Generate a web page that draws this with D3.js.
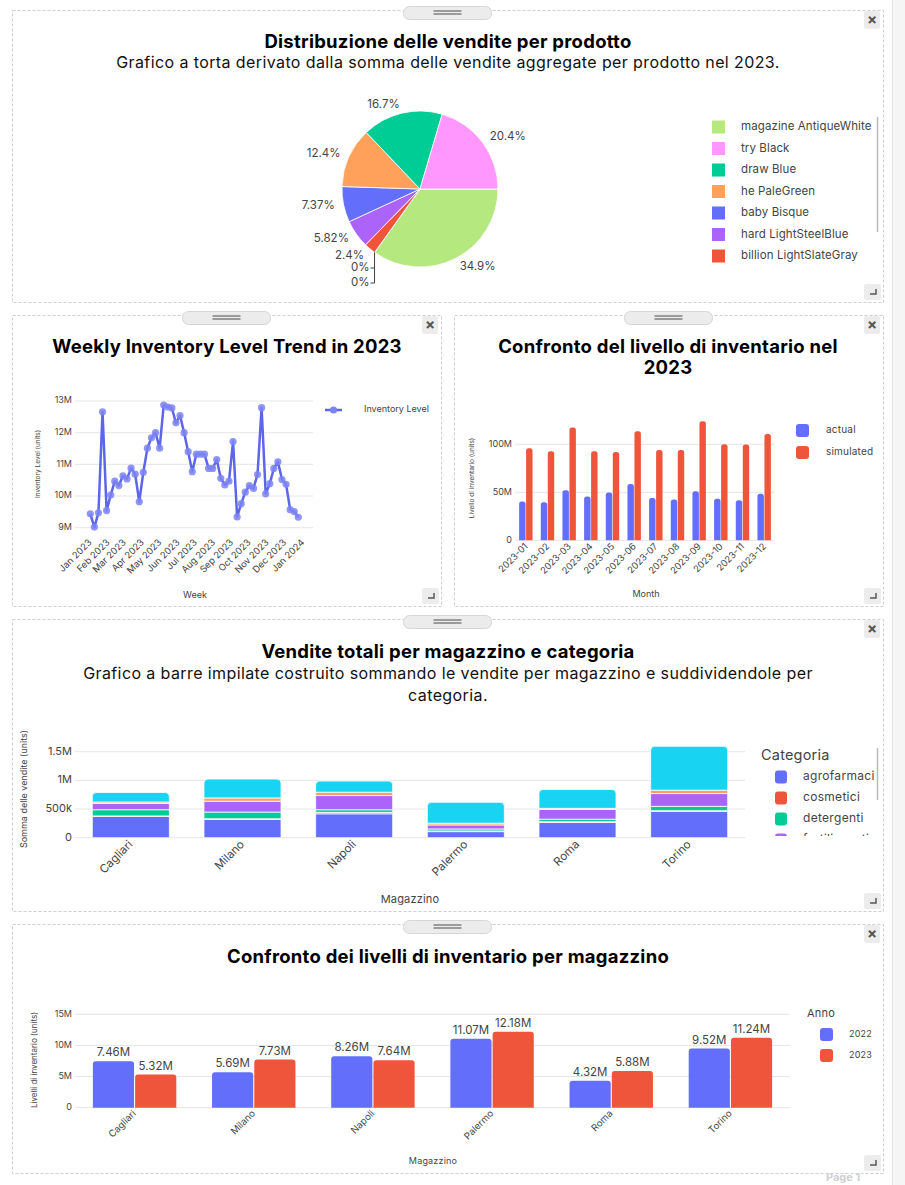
<!DOCTYPE html>
<html><head><meta charset="utf-8">
<script src="https://cdn.jsdelivr.net/npm/d3@7"></script>
<style>
html,body{margin:0;padding:0;background:#fff;}
svg{display:block;font-family:Inter,"Open Sans",sans-serif;}
</style></head><body>
<svg id="c" width="905" height="1185"></svg>
<script>
// ---------- DATA ----------
const pieNames = ["magazine AntiqueWhite","try Black","draw Blue","he PaleGreen","baby Bisque","hard LightSteelBlue","billion LightSlateGray","prodotto 8","prodotto 9"];
const pieValues = [34.9,20.4,16.7,12.4,7.37,5.82,2.4,0,0];
const pieColors = ["#B6E880","#FF97FF","#00CC96","#FFA15A","#636EFA","#AB63FA","#EF553B","#FECB52","#19D3F3"];

const weeklyInventoryM = [9.44,9.02,9.47,12.66,9.54,10.03,10.47,10.33,10.64,10.54,10.88,10.69,9.82,10.75,11.51,11.84,12.0,11.51,12.87,12.81,12.78,12.31,12.54,12.0,11.4,10.77,11.32,11.32,11.32,10.87,10.87,11.15,10.56,10.35,10.47,11.72,9.34,9.76,10.12,10.33,10.24,10.68,12.79,10.07,10.39,10.87,11.08,10.52,10.37,9.57,9.51,9.33];
const weekMonthTicks = ["Jan 2023","Feb 2023","Mar 2023","Apr 2023","May 2023","Jun 2023","Jul 2023","Aug 2023","Sep 2023","Oct 2023","Nov 2023","Dec 2023","Jan 2024"];
const lineYTicks = [9,10,11,12,13];

const months = ["2023-01","2023-02","2023-03","2023-04","2023-05","2023-06","2023-07","2023-08","2023-09","2023-10","2023-11","2023-12"];
const actualM = [40.3,39.6,52.1,45.5,49.7,58.7,44.1,42.4,51.0,43.4,41.7,48.6];
const simulatedM = [95.8,92.7,117.4,92.7,92.0,113.5,94.1,94.1,124.0,100.0,99.7,110.8];
const monthYTicks = [0,50,100];

const warehouses = ["Cagliari","Milano","Napoli","Palermo","Roma","Torino"];
const categories = ["agrofarmaci","cosmetici","detergenti","fertilizzanti","giardinaggio","sementi"];
const catColors = ["#636EFA","#EF553B","#00CC96","#AB63FA","#FFA15A","#19D3F3"];
// sales in thousands of units, per category and warehouse
const salesAgrofarmaci = [370,318,417,106,265,459];
const salesCosmetici   = [10,12,25,12,15,12];
const salesDetergenti  = [108,117,46,35,43,76];
const salesFertilizz   = [112,188,247,70,171,223];
const salesGiardinagg  = [23,59,59,30,18,59];
const salesSementi     = [165,329,194,364,329,765];
const stackYTicks = [0,500,1000,1500];
const stackYLabels = ["0","500k","1M","1.5M"];

const years = ["2022","2023"];
const inv2022M = [7.46,5.69,8.26,11.07,4.32,9.52];
const inv2023M = [5.32,7.73,7.64,12.18,5.88,11.24];
const invYTicks = [0,5,10,15];

// ---------- HELPERS ----------
const svg = d3.select("#c");
function txt(g,x,y,s,o={}){
  const t = g.append("text").attr("x",x).attr("y",y).text(s)
    .attr("font-size",o.size||12).attr("font-weight",o.weight||400)
    .attr("fill",o.fill||"#444").attr("text-anchor",o.anchor||"start")
    .attr("dominant-baseline",o.base||"middle");
  if(o.ls) t.attr("letter-spacing",o.ls);
  return t;
}
function title(g,x,y,s){ return txt(g,x,y,s,{size:18.5,weight:700,fill:"#000",anchor:"middle",ls:0.25}); }
function subtitle(g,x,y,s){ return txt(g,x,y,s,{size:16,fill:"#111",anchor:"middle",ls:0.4}); }
function topRounded(x,y,w,h,r){
  r=Math.max(0,Math.min(r,h,w/2));
  return `M${x},${y+h}V${y+r}Q${x},${y} ${x+r},${y}H${x+w-r}Q${x+w},${y} ${x+w},${y+r}V${y+h}Z`;
}
function panel(x0,y0,x1,y1){
  svg.append("rect").attr("x",x0+0.5).attr("y",y0+0.5).attr("width",x1-x0).attr("height",y1-y0)
    .attr("fill","#fff").attr("stroke","#cfcfcf").attr("stroke-dasharray","3,2");
  const cx=(x0+x1)/2;
  svg.append("rect").attr("x",cx-44).attr("y",y0-3.5).attr("width",88).attr("height",13).attr("rx",6)
    .attr("fill","#ececec").attr("stroke","#d6d6d6");
  [0,3].forEach(d=>svg.append("line").attr("x1",cx-14).attr("x2",cx+14).attr("y1",y0+1+d).attr("y2",y0+1+d)
    .attr("stroke","#666").attr("stroke-width",1.2));
  svg.append("rect").attr("x",x1-19).attr("y",y0+1).attr("width",16).attr("height",18).attr("rx",2).attr("fill","#ececec");
  txt(svg,x1-11,y0+10.5,"×",{size:15,weight:700,fill:"#555",anchor:"middle"});
  svg.append("rect").attr("x",x1-19).attr("y",y1-18).attr("width",17).attr("height",16).attr("rx",2).attr("fill","#ececec");
  svg.append("path").attr("d",`M${x1-7},${y1-13}V${y1-8}H${x1-13}`).attr("fill","none").attr("stroke","#555").attr("stroke-width",1.5);
}

// page right strip
svg.append("rect").attr("x",892).attr("y",0).attr("width",13).attr("height",1185).attr("fill","#f5f5f5");
svg.append("line").attr("x1",892.5).attr("x2",892.5).attr("y1",0).attr("y2",1185).attr("stroke","#e3e3e3");
txt(svg,826,1178,"Page 1",{size:11,weight:700,fill:"#d0d0d0"});

panel(12,10,883,302);
panel(12,315,441,606);
panel(454,315,883,606);
panel(12,619,883,911);
panel(12,924,883,1173);

// ---------- PANEL 1: PIE ----------
{
  const g = svg.append("g");
  title(g,448,43,"Distribuzione delle vendite per prodotto");
  subtitle(g,448,64,"Grafico a torta derivato dalla somma delle vendite aggregate per prodotto nel 2023.");
  const cx=420, cy=189, R=78;
  const order=[0,8,7,6,5,4,3,2,1];
  const pd = order.map(i=>({i,name:pieNames[i],value:pieValues[i],color:pieColors[i]}));
  const arcs = d3.pie().sort(null).value(d=>d.value).startAngle(Math.PI/2).endAngle(Math.PI/2+2*Math.PI)(pd);
  const arc = d3.arc().innerRadius(0).outerRadius(R);
  const pg = g.append("g").attr("transform",`translate(${cx},${cy})`);
  pg.selectAll("path").data(arcs).join("path").attr("d",arc).attr("fill",d=>d.data.color)
    .attr("stroke","#fff").attr("stroke-width",0.8);
  const lr = R+9;
  arcs.filter(a=>a.data.value>0).forEach(a=>{
    const m=(a.startAngle+a.endAngle)/2;
    const x=Math.sin(m)*lr, y=-Math.cos(m)*lr;
    txt(pg,x,y,a.data.value+"%",{size:11.5,fill:"#444",anchor:Math.sin(m)>=0?"start":"end"});
  });
  const zeros = arcs.filter(a=>a.data.value===0);
  if(zeros.length){
    const a0=zeros[0].startAngle;
    const px=Math.sin(a0)*R, py=-Math.cos(a0)*R;
    const ys=[268-cy,283-cy];
    pg.append("path").attr("d",`M${px},${py}V${ys[1]}H${px-4}M${px},${ys[0]}H${px-4}`)
      .attr("fill","none").attr("stroke","#444").attr("stroke-width",1);
    zeros.forEach((z,k)=>txt(pg,px-5,ys[k],z.data.value+"%",{size:11.5,fill:"#444",anchor:"end"}));
  }
  const lg = g.append("g");
  pieNames.slice(0,7).forEach((n,k)=>{
    const y=127+k*21.5;
    lg.append("rect").attr("x",712).attr("y",y-6.5).attr("width",13).attr("height",13).attr("fill",pieColors[k]);
    txt(lg,741,y,n,{size:11.5,fill:"#444",ls:0.1});
  });
  g.append("line").attr("x1",877.5).attr("x2",877.5).attr("y1",117).attr("y2",232).attr("stroke","#bbb").attr("stroke-width",1.5);
}

// ---------- PANEL 2: LINE ----------
{
  const g = svg.append("g");
  title(g,227,348,"Weekly Inventory Level Trend in 2023");
  const weeks = d3.timeMonday.range(new Date(2023,0,2), new Date(2023,11,26));
  const x = d3.scaleTime().domain([weeks[0],weeks[weeks.length-1]]).range([90.3,298.3]);
  const y = d3.scaleLinear().domain([9,13]).range([527.7,401]);
  lineYTicks.forEach(t=>{
    g.append("line").attr("x1",75).attr("x2",313).attr("y1",y(t)).attr("y2",y(t)).attr("stroke","#e6e6e6");
    txt(g,72,y(t),t+"M",{size:9,fill:"#444",anchor:"end"});
  });
  const mt = d3.timeMonth.range(new Date(2023,0,1), new Date(2024,0,2));
  mt.forEach((d,k)=>{
    g.append("text").attr("transform",`translate(${x(d)+2.5},${543}) rotate(-45)`)
      .attr("text-anchor","end").attr("font-size",9.3).attr("fill","#444").text(weekMonthTicks[k]);
  });
  const pts = weeks.map((d,i)=>[x(d),y(weeklyInventoryM[i])]);
  g.append("path").attr("d",d3.line()(pts)).attr("fill","none").attr("stroke","#5d65e8").attr("stroke-width",2.5).attr("stroke-linejoin","round");
  g.selectAll("circle.m").data(pts).join("circle").attr("cx",d=>d[0]).attr("cy",d=>d[1]).attr("r",3.6)
    .attr("fill","#7c84f4").attr("fill-opacity",0.85);
  txt(g,195,596,"Week",{size:9,fill:"#444",anchor:"middle"});
  g.append("text").attr("transform","translate(38,464) rotate(-90)").attr("text-anchor","middle")
    .attr("dominant-baseline","middle").attr("font-size",6.5).attr("fill","#444").text("Inventory Level (units)");
  g.append("line").attr("x1",325).attr("x2",342).attr("y1",410).attr("y2",410).attr("stroke","#5d65e8").attr("stroke-width",2.5);
  g.append("circle").attr("cx",333.5).attr("cy",410).attr("r",3.6).attr("fill","#7c84f4");
  txt(g,364,410,"Inventory Level",{size:9,fill:"#444"});
}

// ---------- PANEL 3: GROUPED MONTHLY ----------
{
  const g = svg.append("g");
  title(g,668,348,"Confronto del livello di inventario nel");
  title(g,668,369,"2023");
  const x = d3.scaleBand().domain(months).range([515,775]).paddingInner(0.38).paddingOuter(0.19);
  const xs = d3.scaleBand().domain(["actual","simulated"]).range([0,x.bandwidth()]).paddingInner(0.08);
  const y = d3.scaleLinear().domain([0,100]).range([540.3,444.3]);
  monthYTicks.forEach(t=>{
    g.append("line").attr("x1",515).attr("x2",775).attr("y1",y(t)).attr("y2",y(t)).attr("stroke","#e6e6e6");
    txt(g,512,y(t),t===0?"0":t+"M",{size:9,fill:"#444",anchor:"end"});
  });
  months.forEach((m,i)=>{
    [["actual",actualM[i],"#636EFA"],["simulated",simulatedM[i],"#EF553B"]].forEach(([s,v,c])=>{
      const bx=x(m)+xs(s), by=y(v);
      g.append("path").attr("d",topRounded(bx,by,xs.bandwidth(),y(0)-by,2.5)).attr("fill",c);
    });
    g.append("text").attr("transform",`translate(${x(m)+x.bandwidth()/2+2.5},${547}) rotate(-45)`)
      .attr("text-anchor","end").attr("font-size",9.3).attr("fill","#444").text(m);
  });
  txt(g,646,595,"Month",{size:9,fill:"#444",anchor:"middle"});
  g.append("text").attr("transform","translate(472,478) rotate(-90)").attr("text-anchor","middle")
    .attr("dominant-baseline","middle").attr("font-size",6.5).attr("fill","#444").text("Livello di inventario (units)");
  [["actual","#636EFA",430.5],["simulated","#EF553B",452.5]].forEach(([n,c,yy])=>{
    g.append("rect").attr("x",796).attr("y",yy-6.5).attr("width",13).attr("height",13).attr("rx",3).attr("fill",c);
    txt(g,826,yy,n,{size:10,fill:"#444",ls:0.2});
  });
}

// ---------- PANEL 4: STACKED ----------
{
  const g = svg.append("g");
  title(g,448,653,"Vendite totali per magazzino e categoria");
  subtitle(g,448,675,"Grafico a barre impilate costruito sommando le vendite per magazzino e suddividendole per");
  subtitle(g,448,697,"categoria.");
  const series=[salesAgrofarmaci,salesCosmetici,salesDetergenti,salesFertilizz,salesGiardinagg,salesSementi];
  const rows = warehouses.map((w,i)=>{const o={w}; categories.forEach((c,k)=>o[c]=series[k][i]); return o;});
  const stack = d3.stack().keys(categories)(rows);
  const x = d3.scaleBand().domain(warehouses).range([75,745]).paddingInner(0.31).paddingOuter(0.155);
  const y = d3.scaleLinear().domain([0,1500]).range([837.7,751.7]);
  stackYTicks.forEach((t,k)=>{
    g.append("line").attr("x1",75).attr("x2",745).attr("y1",y(t)).attr("y2",y(t)).attr("stroke","#e6e6e6");
    txt(g,72,y(t),stackYLabels[k],{size:11,fill:"#444",anchor:"end"});
  });
  stack.forEach((layer,k)=>{
    layer.forEach((d,i)=>{
      const bx=x(warehouses[i]), y0=y(d[0]), y1=y(d[1]);
      const isTop = k===stack.length-1;
      g.append("path").attr("d",isTop?topRounded(bx,y1,x.bandwidth(),y0-y1,4):`M${bx},${y0}V${y1}H${bx+x.bandwidth()}V${y0}Z`)
        .attr("fill",catColors[k]).attr("stroke","#fff").attr("stroke-width",0.8);
    });
  });
  warehouses.forEach(w=>{
    g.append("text").attr("transform",`translate(${x(w)+x.bandwidth()/2+2.5},${845}) rotate(-45)`)
      .attr("text-anchor","end").attr("font-size",11.5).attr("fill","#444").text(w);
  });
  txt(g,410,900,"Magazzino",{size:11,fill:"#444",anchor:"middle",ls:0.2});
  g.append("text").attr("transform","translate(25,789) rotate(-90)").attr("text-anchor","middle")
    .attr("dominant-baseline","middle").attr("font-size",9).attr("fill","#444").text("Somma delle vendite (units)");
  txt(g,761,756,"Categoria",{size:14.5,fill:"#444",ls:0.2});
  svg.append("clipPath").attr("id","lgclip").append("rect").attr("x",760).attr("y",765).attr("width",120).attr("height",71);
  const lg=g.append("g").attr("clip-path","url(#lgclip)");
  categories.forEach((c,k)=>{
    const yy=777+k*21;
    lg.append("rect").attr("x",775).attr("y",yy-6.5).attr("width",12).attr("height",13).attr("rx",3).attr("fill",catColors[k]);
    txt(lg,803,yy,c,{size:12,fill:"#444",ls:0.3});
  });
  g.append("line").attr("x1",877.5).attr("x2",877.5).attr("y1",748).attr("y2",800).attr("stroke","#bbb").attr("stroke-width",1.5);
}

// ---------- PANEL 5: GROUPED PER WAREHOUSE ----------
{
  const g = svg.append("g");
  title(g,448,958,"Confronto dei livelli di inventario per magazzino");
  const x = d3.scaleBand().domain(warehouses).range([75,790]).paddingInner(0.3).paddingOuter(0.15);
  const xs = d3.scaleBand().domain(years).range([0,x.bandwidth()]).paddingInner(0.025);
  const y = d3.scaleLinear().domain([0,15]).range([1107.7,1014.3]);
  invYTicks.forEach(t=>{
    g.append("line").attr("x1",75).attr("x2",790).attr("y1",y(t)).attr("y2",y(t)).attr("stroke","#e6e6e6");
    txt(g,72,y(t),t===0?"0":t+"M",{size:9,fill:"#444",anchor:"end"});
  });
  warehouses.forEach((w,i)=>{
    [["2022",inv2022M[i],"#636EFA"],["2023",inv2023M[i],"#EF553B"]].forEach(([s,v,c])=>{
      const bx=x(w)+xs(s), by=y(v);
      g.append("path").attr("d",topRounded(bx,by,xs.bandwidth(),y(0)-by,3)).attr("fill",c);
      txt(g,bx+xs.bandwidth()/2,by-8,v.toFixed(2)+"M",{size:11.5,fill:"#444",anchor:"middle"});
    });
    g.append("text").attr("transform",`translate(${x(w)+x.bandwidth()/2+2},${1114}) rotate(-45)`)
      .attr("text-anchor","end").attr("font-size",9.5).attr("fill","#444").text(w);
  });
  txt(g,433,1162,"Magazzino",{size:9,fill:"#444",anchor:"middle",ls:0.2});
  g.append("text").attr("transform","translate(35,1060) rotate(-90)").attr("text-anchor","middle")
    .attr("dominant-baseline","middle").attr("font-size",8).attr("fill","#444").text("Livelli di inventario (units)");
  txt(g,807,1014,"Anno",{size:11,fill:"#444",ls:0.2});
  [["2022","#636EFA",1034.5],["2023","#EF553B",1055.5]].forEach(([n,c,yy])=>{
    g.append("rect").attr("x",820).attr("y",yy-6.5).attr("width",13).attr("height",13).attr("rx",3).attr("fill",c);
    txt(g,849,yy,n,{size:9,fill:"#444",ls:0.2});
  });
}
</script>
</body></html>
